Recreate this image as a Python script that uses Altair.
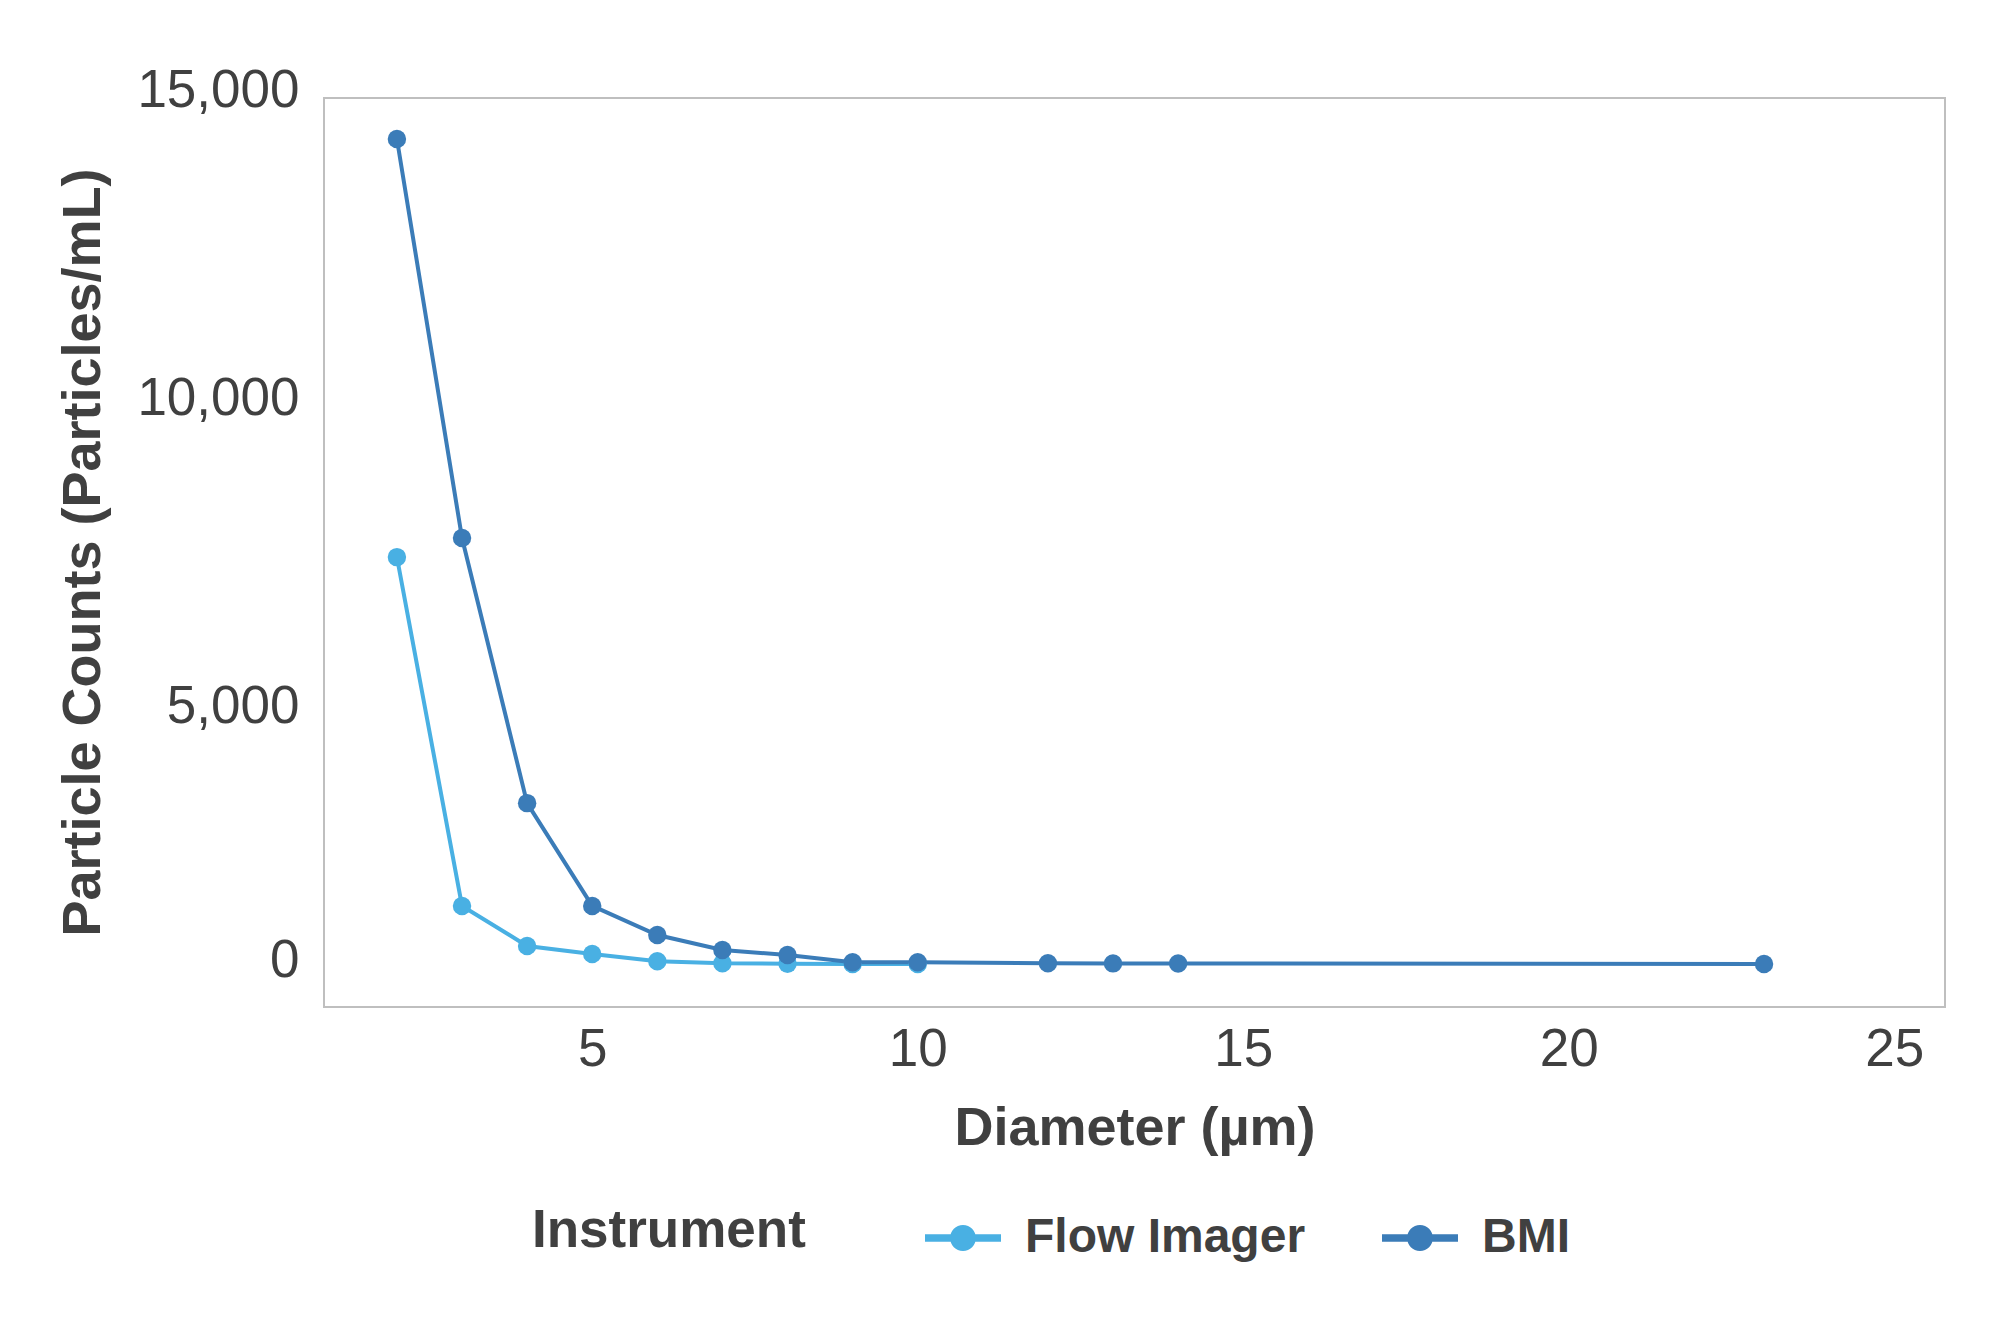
import altair as alt
import pandas as pd

# Data
flow_diam = [2, 3, 4, 5, 6, 7, 8, 9, 10]
flow_count = [7050, 1010, 317, 178, 52, 17, 8, 4, 3]

bmi_diam = [2, 3, 4, 5, 6, 7, 8, 9, 10, 12, 13, 14, 23]
bmi_count = [14290, 7380, 2790, 1010, 507, 248, 161, 35, 35, 17, 15, 14, 5]

series_names = ["Flow Imager", "BMI"]
series_colors = ["#49b0e3", "#3b7cb8"]

x_ticks = [5, 10, 15, 20, 25]
y_ticks = [0, 5000, 10000, 15000]

rows = []
for d, c in zip(flow_diam, flow_count):
    rows.append({"Diameter": d, "Count": c, "Instrument": "Flow Imager"})
for d, c in zip(bmi_diam, bmi_count):
    rows.append({"Diameter": d, "Count": c, "Instrument": "BMI"})
df = pd.DataFrame(rows)

FONT = "Liberation Sans"
TXT = "#404040"

color_scale = alt.Scale(domain=series_names, range=series_colors)

x_enc = alt.X(
    "Diameter:Q",
    scale=alt.Scale(domain=[0.88, 25.78], nice=False, zero=False),
    axis=alt.Axis(
        values=x_ticks,
        title="Diameter (µm)",
        ticks=False,
        domain=False,
        grid=False,
        labelFontSize=53,
        labelPadding=16,
        labelColor=TXT,
        labelFont=FONT,
        titleFont=FONT,
        titleFontSize=54,
        titleFontWeight="bold",
        titleColor=TXT,
        titleBaseline="alphabetic",
        titleY=137,
    ),
)
y_enc = alt.Y(
    "Count:Q",
    scale=alt.Scale(domain=[-740, 15000], nice=False, zero=False),
    axis=alt.Axis(
        values=y_ticks,
        format=",.0f",
        title="Particle Counts (Particles/mL)",
        ticks=False,
        domain=False,
        grid=False,
        labelFontSize=53,
        labelPadding=25,
        labelColor=TXT,
        labelFont=FONT,
        labelOffset={"expr": "datum.value == 15000 ? -8 : datum.value == 10000 ? 12 : datum.value == 5000 ? 31 : datum.value == 0 ? -4 : 0"},
        titleFont=FONT,
        titleFontSize=54,
        titleFontWeight="bold",
        titleColor=TXT,
        titleBaseline="alphabetic",
        titleAngle=-90,
        titleAlign="center",
        titleX=-225,
        titleY=454,
    ),
)

# one line layer per series (drawn in series order so BMI sits on top)
line_layers = [
    alt.Chart(df)
    .transform_filter(alt.datum.Instrument == name)
    .mark_line(strokeWidth=4, color=col)
    .encode(x=x_enc, y=y_enc, order=alt.Order("Diameter:Q"))
    for name, col in zip(series_names, series_colors)
]

legend_symbol = "M-1,-0.1L1,-0.1L1,0.1L-1,0.1Z M-0.34,0A0.34,0.34,0,1,1,0.34,0A0.34,0.34,0,1,1,-0.34,0Z"

points = alt.Chart(df).mark_point(filled=True, size=340, opacity=1).encode(
    x=x_enc,
    y=y_enc,
    color=alt.Color(
        "Instrument:N",
        scale=color_scale,
        legend=alt.Legend(
            title="Instrument",
            orient="none",
            legendX=208,
            legendY=1102,
            direction="horizontal",
            titleOrient="left",
            titleFont=FONT,
            titleFontSize=53,
            titleFontWeight="bold",
            titleColor=TXT,
            titlePadding=119,
            titleBaseline="middle",
            titleLimit=1000,
            labelFont=FONT,
            labelFontSize=48,
            labelFontWeight="bold",
            labelColor=TXT,
            labelOffset=24,
            labelLimit=1000,
            columnPadding=76,
            symbolType=legend_symbol,
            symbolSize=5776,
            symbolStrokeWidth=0,
            symbolOpacity=1,
            padding=0,
        ),
    ),
)

chart = (
    alt.layer(*line_layers, points)
    .properties(
        width=1621,
        height=909,
        autosize=alt.AutoSizeParams(type="none"),
        padding={"left": 316, "top": 90, "right": 40, "bottom": 300},
        background="white",
    )
    .configure_view(stroke="#bfbfbf", strokeWidth=2)
)

chart.save("out.html", embed_options={"renderer": "svg", "actions": False})
